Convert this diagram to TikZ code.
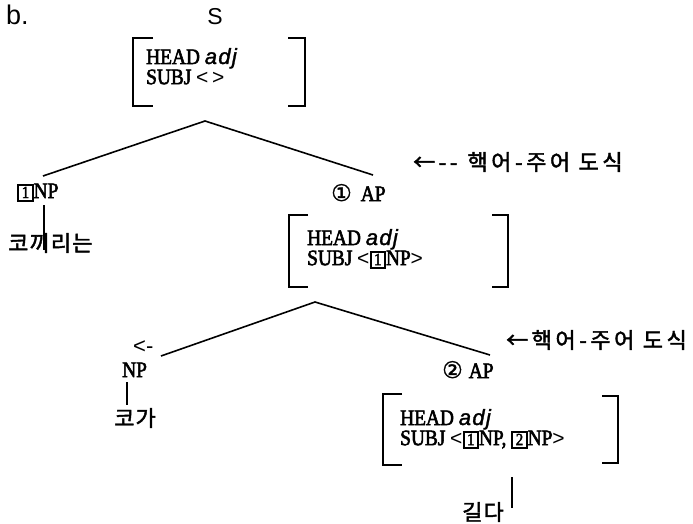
\documentclass[tikz,border=0pt]{standalone}
\usepackage{fontspec}
\setmainfont{Liberation Serif}
\newfontfamily\kfont[FakeBold=2,LetterSpace=5]{Noto Sans CJK KR}
\newfontfamily\kfontw[FakeBold=2,LetterSpace=16]{Noto Sans CJK KR}
\newfontfamily\symf[FakeBold=1.5]{DejaVu Sans}
\newfontfamily\sansf{Liberation Sans}
\newfontfamily\avmf[FakeStretch=0.88,FakeBold=2.5]{Liberation Serif}
\newfontfamily\adjf[FakeBold=1.5,LetterSpace=6]{Liberation Sans}
\newcommand\bxn[1]{{\fboxsep=0.5pt\fboxrule=2pt\fbox{\fontsize{17}{17}\selectfont\hspace{2pt}\raisebox{0pt}[12pt][1pt]{#1}\hspace{2pt}}}}
\newcommand\adjw{{\adjf\itshape adj}}
\newcommand\lan{{\sansf\fontsize{21}{20}\selectfont <}}
\newcommand\ran{{\sansf\fontsize{21}{20}\selectfont >}}
\newcommand\avmrows[2]{\begin{tabular}[t]{@{}l@{}}#1\\#2\end{tabular}}
\tikzset{
  lab/.style={inner sep=0pt, anchor=base west, font=\avmf\fontsize{22}{24}\selectfont},
  kor/.style={inner sep=0pt, font=\kfont\fontsize{22}{24}\selectfont},
  rulelab/.style={inner sep=0pt, anchor=west, font=\kfontw\fontsize{22}{24}\selectfont},
  avmtext/.style={inner sep=0pt, anchor=base west, font=\avmf\fontsize{22}{18.5}\selectfont},
  tl/.style={line width=1.6pt},
  br/.style={line width=1.8pt},
}
\begin{document}
\begin{tikzpicture}[x=1pt,y=-1pt]
\useasboundingbox (0,0) rectangle (693,524);
% titles
\node[inner sep=0pt, anchor=base west, font=\sansf\fontsize{27}{28}\selectfont] (bl) at (6,25) {b.};
\node[inner sep=0pt, anchor=base, font=\sansf\fontsize{23}{24}\selectfont] (S) at (215,25) {S};
% AVM 1
\node[avmtext] (avm1) at (146,64) {\avmrows{HEAD \adjw}{SUBJ \lan\,\ran}};
\draw[br] (153,38) -- (133,38) -- (133,106) -- (153,106);
\draw[br] (288,38) -- (305,38) -- (305,106) -- (288,106);
% tree 1
\coordinate (a1) at (205,121);
\coordinate (l1) at (43,176);
\coordinate (r1) at (373,175);
\draw[tl] (l1) -- (a1) -- (r1);
% left daughter
\node[lab] (np1) at (17,198) {\bxn{1}NP};
\node[kor, anchor=west] (kk) at (8,243) {코끼리는};
\coordinate (np1b) at (44,205);
\coordinate (kkl) at (44,250);
\draw[line width=1.4pt] (np1b) -- (kkl);
% right daughter
\node[lab] (ap1) at (331,201) {{\symf\fontsize{23}{23}\selectfont ①}\hspace{9pt}AP};
\node[rulelab] (rule1) at (413,162) {←-{}-\hspace{10pt}핵어-주어 도식};
% AVM 2
\node[avmtext] (avm2) at (307,245) {\avmrows{HEAD \adjw}{SUBJ \lan\bxn{1}NP\ran}};
\draw[br] (308,215) -- (289,215) -- (289,287) -- (308,287);
\draw[br] (492,215) -- (508,215) -- (508,287) -- (492,287);
% tree 2
\coordinate (a2) at (315,302);
\coordinate (l2) at (161,356);
\coordinate (r2) at (490,355);
\draw[tl] (l2) -- (a2) -- (r2);
\node[inner sep=0pt, anchor=base west, font=\sansf\fontsize{22}{24}\selectfont] (lt) at (133,353) {<-};
\node[lab] (np2) at (122,377) {NP};
\node[kor] (kg) at (135,418) {코가};
\coordinate (np2b) at (127,382);
\coordinate (kgt) at (127,405);
\draw[line width=1.4pt] (np2b) -- (kgt);
\node[lab] (ap2) at (442,378) {{\symf\fontsize{23}{23}\selectfont ②}\hspace{6pt}AP};
\node[rulelab] (rule2) at (506,340) {←핵어-주어 도식};
% AVM 3
\node[avmtext] (avm3) at (400,425) {\avmrows{HEAD \adjw}{SUBJ \lan\bxn{1}NP, \bxn{2}NP\ran}};
\draw[br] (402,394) -- (383,394) -- (383,465) -- (402,465);
\draw[br] (602,396) -- (618,396) -- (618,463) -- (602,463);
\coordinate (v3t) at (512,477);
\coordinate (v3b) at (512,508);
\draw[line width=1.2pt] (v3t) -- (v3b);
\node[kor] (gd) at (483,512) {길다};
\end{tikzpicture}
\end{document}
